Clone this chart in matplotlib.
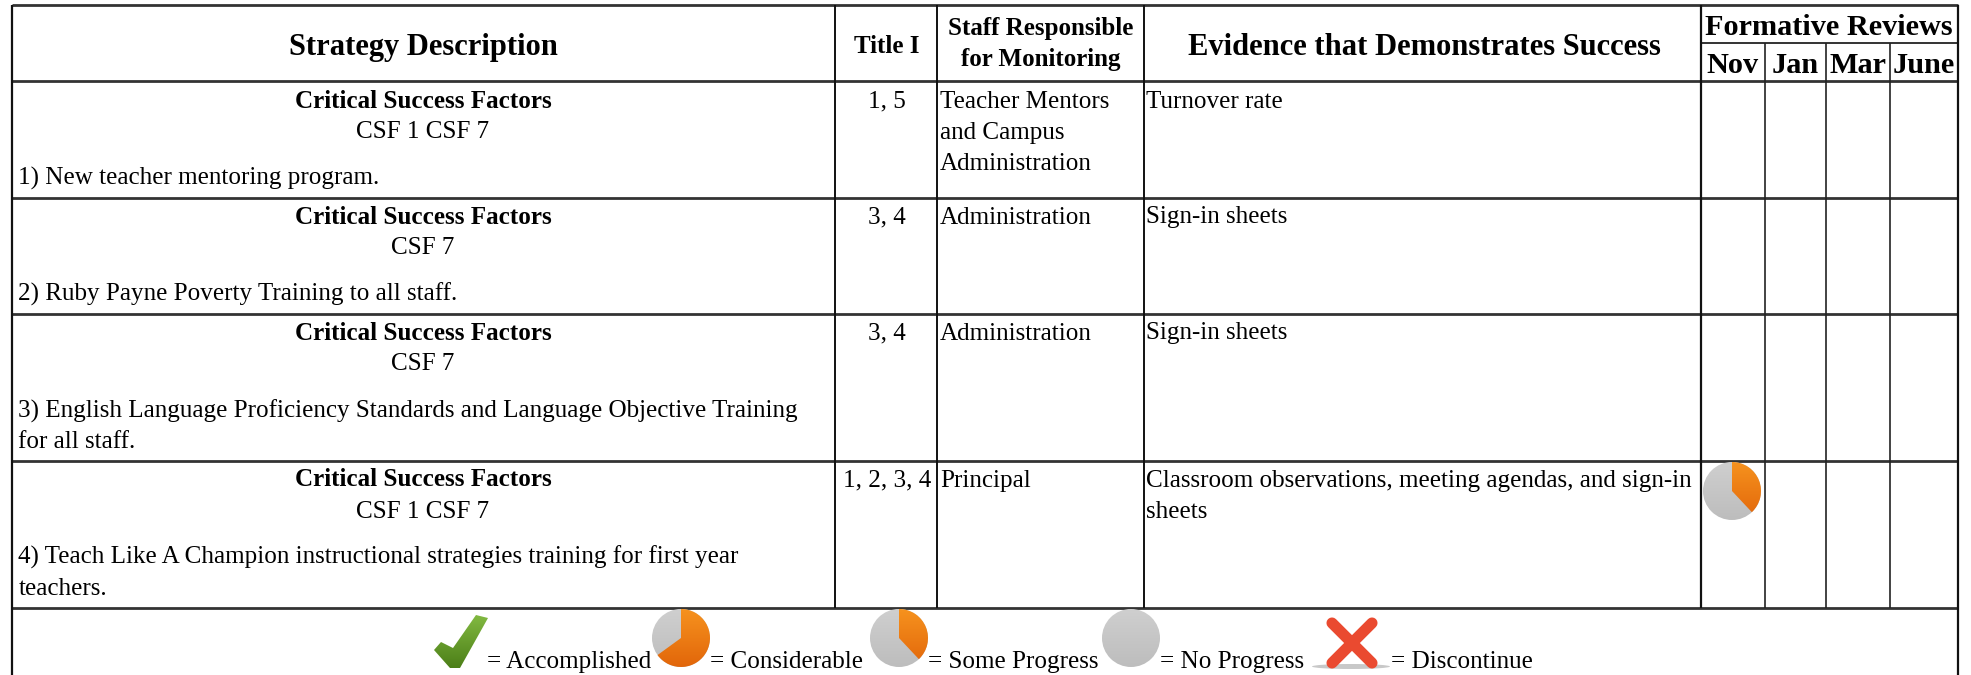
import matplotlib
matplotlib.use('Agg')
import matplotlib.pyplot as plt
from matplotlib.patches import Wedge, Ellipse, Polygon
import numpy as np

plt.rcParams['font.family'] = ['Liberation Serif', 'DejaVu Serif']

W, H = 1971, 675
BODY = 18.1
BOLD = 18.0
HEAD = 22.0
SUB = 21.8

# table content
headers = ['Strategy Description', 'Title I', 'Evidence that Demonstrates Success']
staff_header = ['Staff Responsible', 'for Monitoring']
review_title = 'Formative Reviews'
months = ['Nov', 'Jan', 'Mar', 'June']
csf_title = 'Critical Success Factors'
csf_codes = ['CSF 1 CSF 7', 'CSF 7', 'CSF 7', 'CSF 1 CSF 7']
strategies = [
    ['1) New teacher mentoring program.'],
    ['2) Ruby Payne Poverty Training to all staff.'],
    ['3) English Language Proficiency Standards and Language Objective Training',
     'for all staff.'],
    ['4) Teach Like A Champion instructional strategies training for first year',
     'teachers.'],
]
title_i = ['1, 5', '3, 4', '3, 4', '1, 2, 3, 4']
staff = [
    ['Teacher Mentors', 'and Campus', 'Administration'],
    ['Administration'],
    ['Administration'],
    ['Principal'],
]
evidence = [
    ['Turnover rate'],
    ['Sign-in sheets'],
    ['Sign-in sheets'],
    ['Classroom observations, meeting agendas, and sign-in', 'sheets'],
]
# share of the pie that is orange
some_progress = 0.38
considerable = 0.65
legend_labels = ['= Accomplished', '= Considerable', '= Some Progress',
                 '= No Progress', '= Discontinue']

# layout in pixels
col_x = [12, 835, 937, 1144, 1701, 1765, 1826, 1890, 1958]
row_y = [5, 81, 198, 314, 461, 608]
row_base = [107.5, 223.5, 339.5, 486.5]
desc_base = [[185], [301], [418, 448], [564, 595]]
month_x = [1732.5, 1795.5, 1857.5, 1923.5]
LINE = 31


fig = plt.figure(figsize=(W / 100, H / 100), dpi=100)
ax = fig.add_axes([0, 0, 1, 1])
ax.set_xlim(0, W)
ax.set_ylim(H, 0)
ax.axis('off')
ax.set_autoscale_on(False)


def put(x, y, s, ha='left', weight='normal', size=BODY):
    ax.text(x, y, s, ha=ha, va='baseline', fontweight=weight, fontsize=size,
            color='black')


def gradient(patch, extent, top, bottom):
    ax.add_patch(patch)
    c0 = np.array(matplotlib.colors.to_rgb(top))
    c1 = np.array(matplotlib.colors.to_rgb(bottom))
    t = np.linspace(0, 1, 64)[:, None, None]
    img = c0 + (c1 - c0) * t
    im = ax.imshow(img, extent=extent, aspect='auto', origin='upper',
                   zorder=3, interpolation='bilinear')
    im.set_clip_path(patch)
    ax.set_xlim(0, W)
    ax.set_ylim(H, 0)


def pie(cx, cy, frac, r=29):
    box = (cx - r, cx + r, cy + r, cy - r)
    gradient(Ellipse((cx, cy), 2 * r, 2 * r, fc='none', ec='none'), box, '#cfcfcf', '#bdbdbd')
    if frac > 0:
        w = Wedge((cx, cy), r, -90, -90 + 360 * frac, fc='none', ec='none')
        gradient(w, box, '#f6921e', '#e2660a')


# grid lines
for y in row_y:
    ax.plot([col_x[0], col_x[-1]], [y, y], color='#333333', lw=2.0, solid_capstyle='butt')
ax.plot([col_x[4], col_x[-1]], [43, 43], color='#333333', lw=1.4, solid_capstyle='butt')
for i, x in enumerate(col_x):
    if i in (0, 8):
        ax.plot([x, x], [row_y[0], H], color='#111111', lw=1.6, solid_capstyle='butt')
    elif i in (5, 6, 7):
        ax.plot([x, x], [43, row_y[-1]], color='#222222', lw=1.2, solid_capstyle='butt')
    elif i == 4:
        ax.plot([x, x], [row_y[0], row_y[-1]], color='#111111', lw=1.6, solid_capstyle='butt')
    else:
        ax.plot([x, x], [row_y[0], row_y[-1]], color='#111111', lw=1.4, solid_capstyle='butt')

# header
put(423, 55, headers[0], 'center', 'bold', HEAD)
put(887, 53, headers[1], 'center', 'bold', 18.0)
put(1041, 35, staff_header[0], 'center', 'bold', BOLD)
put(1041, 66, staff_header[1], 'center', 'bold', BOLD)
put(1424, 55, headers[2], 'center', 'bold', HEAD)
put(1829, 35, review_title, 'center', 'bold', SUB)
for x, m in zip(month_x, months):
    put(x, 73, m, 'center', 'bold', 21.8)

# rows
for i in range(4):
    base = row_base[i]
    put(423, base, csf_title, 'center', 'bold')
    put(423, base + LINE, csf_codes[i], 'center')
    for y, s in zip(desc_base[i], strategies[i]):
        put(18.5, y, s)
    put(887, base, title_i[i], 'center')
    for j, s in enumerate(staff[i]):
        put(940, base + j * LINE, s)
    for j, s in enumerate(evidence[i]):
        put(1146, base + j * LINE, s)

pie(1732, 491, some_progress)

# legend
check = Polygon([(434, 650), (441, 642), (453, 648), (476, 615), (488, 618),
                 (460, 668), (450, 668)], closed=True, fc='none', ec='none')
gradient(check, (434, 488, 668, 615), '#82b941', '#4c7f18')
put(487, 668, legend_labels[0])
pie(681, 638, considerable)
put(710, 668, legend_labels[1])
pie(899, 638, some_progress)
put(928, 668, legend_labels[2])
pie(1131, 638, 0)
put(1160, 668, legend_labels[3])
ax.add_patch(Ellipse((1351, 666.5), 78, 5, fc='#c8c8c8', ec='none'))
ax.plot([1332, 1372], [623, 663], color='#ea4a30', lw=8, solid_capstyle='round', zorder=3)
ax.plot([1372, 1332], [623, 663], color='#ea4a30', lw=8, solid_capstyle='round', zorder=3)
put(1391, 668, legend_labels[4])

fig.savefig('out.png', dpi=100)
